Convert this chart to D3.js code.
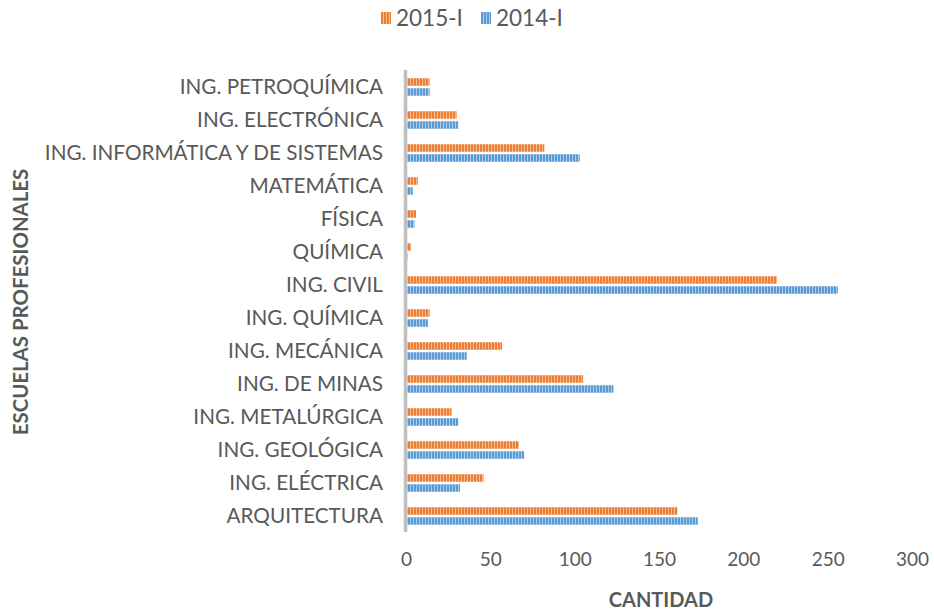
<!DOCTYPE html>
<html>
<head>
<meta charset="utf-8">
<script src="https://cdn.jsdelivr.net/npm/d3@7"></script>
<style>
  body { margin: 0; background: #fff; }
  text { font-family: Lato, "Open Sans", sans-serif; fill: #595959; }
</style>
</head>
<body>
<div id="chart"></div>
<script>
// categories top to bottom
var escuelas = ["ING. PETROQUÍMICA", "ING. ELECTRÓNICA", "ING. INFORMÁTICA Y DE SISTEMAS",
    "MATEMÁTICA", "FÍSICA", "QUÍMICA", "ING. CIVIL", "ING. QUÍMICA", "ING. MECÁNICA",
    "ING. DE MINAS", "ING. METALÚRGICA ", "ING. GEOLÓGICA", "ING. ELÉCTRICA", "ARQUITECTURA"];
var series = ["2015-I", "2014-I"];
var valores2015 = [14, 30, 82, 7, 6, 3, 220, 14, 57, 105, 27, 67, 46, 161];
var valores2014 = [14, 31, 103, 4, 5, 1, 256, 13, 36, 123, 31, 70, 32, 173];
var xTicks = [0, 50, 100, 150, 200, 250, 300];

var colors = { "2015-I": "#ED7D31", "2014-I": "#5B9BD5" };
var light = { "2015-I": "#F6BC94", "2014-I": "#A9CBEA" };

var w = 934, h = 614;
var margin = { top: 70, left: 406, right: 22, bottom: 82 };

var svg = d3.select("#chart").append("svg")
    .attr("width", w)
    .attr("height", h);

// striped fills like the excel pattern
var defs = svg.append("defs");
series.forEach(function(s, i) {
    var p = defs.append("pattern")
        .attr("id", "pat" + i)
        .attr("width", 3)
        .attr("height", 10)
        .attr("patternUnits", "userSpaceOnUse");
    p.append("rect").attr("width", 3).attr("height", 10).attr("fill", colors[s]);
    p.append("rect").attr("x", 2).attr("width", 1).attr("height", 10).attr("fill", light[s]);
});

var x = d3.scaleLinear()
    .domain([0, 300])
    .range([margin.left, 912]);

var y = d3.scaleBand()
    .domain(escuelas)
    .range([70.5, 532.5]);

var ySub = d3.scaleBand()
    .domain(series)
    .range([0, y.bandwidth()])
    .paddingInner(0.25)
    .paddingOuter(0.775);

var rows = escuelas.map(function(e, i) {
    return { name: e, vals: [
        { s: "2015-I", v: valores2015[i] },
        { s: "2014-I", v: valores2014[i] }
    ]};
});

var groups = svg.selectAll("g.row")
    .data(rows)
    .enter()
    .append("g")
    .attr("class", "row")
    .attr("transform", function(d) { return "translate(0," + y(d.name) + ")"; });

groups.selectAll("rect")
    .data(function(d) { return d.vals; })
    .enter()
    .append("rect")
    .attr("x", x(0))
    .attr("y", function(d) { return ySub(d.s); })
    .attr("width", function(d) { return x(d.v) - x(0); })
    .attr("height", ySub.bandwidth())
    .attr("fill", function(d) { return "url(#pat" + series.indexOf(d.s) + ")"; });

// category labels
svg.selectAll("text.cat")
    .data(escuelas)
    .enter()
    .append("text")
    .attr("class", "cat")
    .attr("x", 383)
    .attr("y", function(d) { return y(d) + y.bandwidth() / 2; })
    .attr("dy", "0.36em")
    .attr("text-anchor", "end")
    .attr("font-size", "20.7px")
    .text(function(d) { return d; });

// vertical axis line
svg.append("line")
    .attr("x1", x(0) - 0.5).attr("x2", x(0) - 0.5)
    .attr("y1", 70).attr("y2", 532)
    .attr("stroke", "#BFBFBF")
    .attr("stroke-width", 3.5);

// x tick labels
var xAxis = d3.axisBottom(x).tickValues(xTicks).tickSize(0).tickPadding(0);
var gx = svg.append("g")
    .attr("transform", "translate(0,552)")
    .call(xAxis);
gx.select(".domain").remove();
gx.selectAll("text")
    .attr("font-size", "19px")
    .attr("fill", "#595959")
    .style("font-family", "Lato, 'Open Sans', sans-serif");

// axis titles
svg.append("text")
    .attr("x", 661)
    .attr("y", 607)
    .attr("text-anchor", "middle")
    .attr("font-size", "20px")
    .attr("font-weight", "bold")
    .text("CANTIDAD");

svg.append("text")
    .attr("transform", "translate(28,302) rotate(-90)")
    .attr("text-anchor", "middle")
    .attr("font-size", "20.4px")
    .attr("font-weight", "bold")
    .text("ESCUELAS PROFESIONALES");

// legend
var legendX = [381, 481];
var leg = svg.selectAll("g.legend")
    .data(series)
    .enter()
    .append("g")
    .attr("class", "legend")
    .attr("transform", function(d, i) { return "translate(" + legendX[i] + ",12)"; });
leg.append("rect")
    .attr("width", 10)
    .attr("height", 12)
    .attr("fill", function(d, i) { return "url(#pat" + i + ")"; });
leg.append("text")
    .attr("x", 15)
    .attr("y", 6)
    .attr("dy", "0.36em")
    .attr("font-size", "22.5px")
    .text(function(d) { return d; });
</script>
</body>
</html>
